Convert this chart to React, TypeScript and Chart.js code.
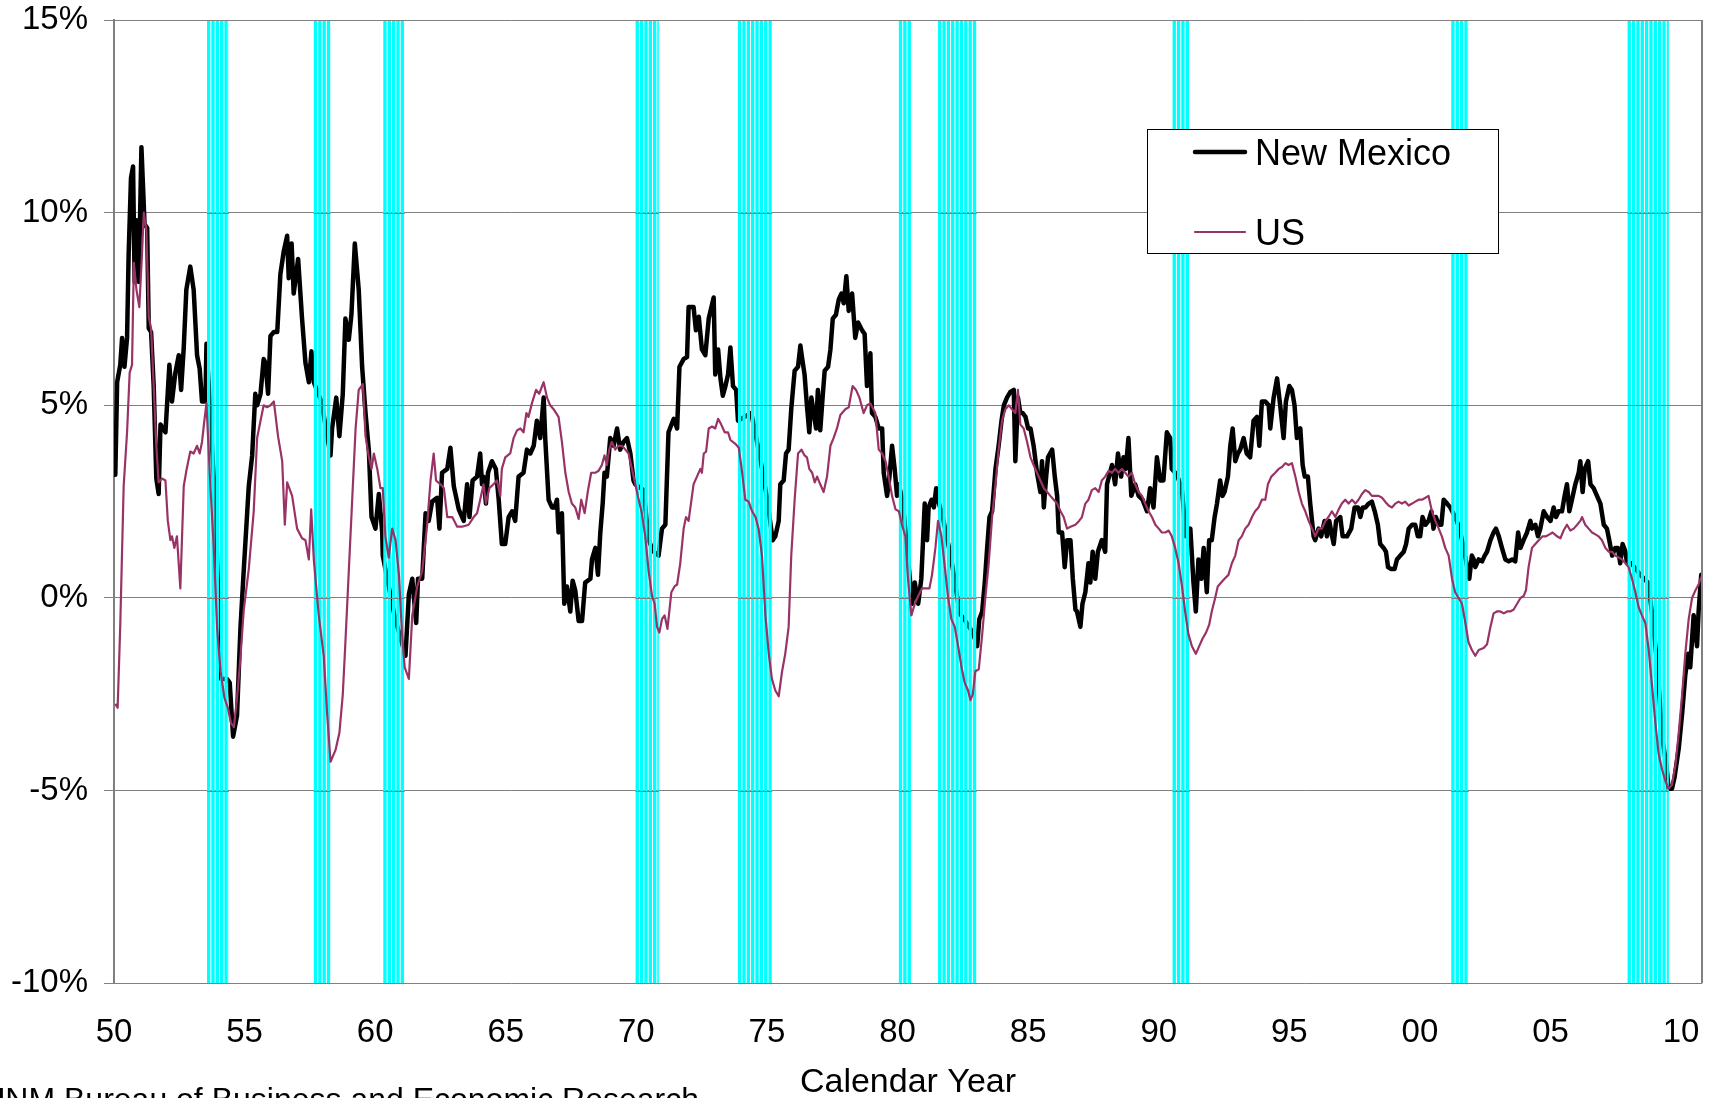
import React, { useEffect, useRef } from 'react';
import { Chart, registerables } from 'chart.js';

Chart.register(...registerables);

// ---------- DATA ----------
const seriesLabels = ['New Mexico', 'US'];
const xAxisTitle = 'Calendar Year';
const sourceNote = 'UNM Bureau of Business and Economic Research';

const xTickYears = [1950, 1955, 1960, 1965, 1970, 1975, 1980, 1985, 1990, 1995, 2000, 2005, 2010];
const yTickValues = [-10, -5, 0, 5, 10, 15];

// recession periods (fractional years)
const recessionStarts = [1953.56, 1957.65, 1960.31, 1969.97, 1973.89, 1980.05, 1981.55, 1990.53, 2001.2, 2007.95];
const recessionEnds = [1954.4, 1958.29, 1961.13, 1970.86, 1975.2, 1980.53, 1983.03, 1991.19, 2001.87, 2009.53];

// New Mexico, year-over-year % change: [year, value]
const newMexico: [number, number][] = [
  [1950.05, 3.2], [1950.12, 5.6], [1950.24, 6.05], [1950.31, 6.75], [1950.40, 6.0], [1950.50, 6.75], [1950.56, 8.9], [1950.65, 10.9], [1950.73, 11.2], [1950.79, 8.2], [1950.86, 9.8], [1950.95, 8.2],
  [1951.05, 11.7], [1951.17, 9.7], [1951.27, 9.6], [1951.33, 7.0], [1951.42, 6.9], [1951.52, 5.5], [1951.62, 3.1], [1951.71, 2.7], [1951.78, 4.5], [1951.97, 4.3],
  [1952.12, 6.05], [1952.22, 5.1], [1952.35, 5.85], [1952.48, 6.3], [1952.57, 5.4], [1952.67, 6.5], [1952.77, 8.0], [1952.92, 8.6],
  [1953.05, 8.0], [1953.18, 6.3], [1953.28, 5.95], [1953.37, 5.1], [1953.50, 5.1], [1953.54, 6.6], [1953.88, 2.35],
  [1954.01, -0.3], [1954.10, -2.1], [1954.33, -2.1], [1954.43, -2.2], [1954.56, -3.6], [1954.71, -3.05], [1954.84, -0.8], [1954.97, 0.75],
  [1955.16, 2.9], [1955.29, 3.7], [1955.41, 5.3], [1955.48, 5.0], [1955.61, 5.3], [1955.73, 6.2], [1955.80, 6.1], [1955.90, 5.3], [1955.99, 6.8],
  [1956.12, 6.9], [1956.25, 6.9], [1956.37, 8.4], [1956.50, 9.0], [1956.63, 9.4], [1956.69, 8.3], [1956.80, 9.2], [1956.88, 7.9],
  [1957.05, 8.8], [1957.20, 7.25], [1957.33, 6.1], [1957.46, 5.6], [1957.56, 6.4], [1957.65, 5.6], [1957.94, 5.1],
  [1958.29, 3.7], [1958.35, 4.4], [1958.51, 5.2], [1958.63, 4.2], [1958.76, 5.3], [1958.86, 7.25], [1958.99, 6.7],
  [1959.09, 7.35], [1959.22, 9.2], [1959.37, 8.0], [1959.50, 6.0], [1959.63, 4.8], [1959.76, 3.8], [1959.86, 2.1],
  [1960.01, 1.8], [1960.14, 2.7], [1960.27, 1.7], [1960.29, 1.1], [1960.75, -0.5],
  [1961.16, -1.5], [1961.29, 0.1], [1961.42, 0.5], [1961.57, -0.65], [1961.64, 0.5], [1961.80, 0.5], [1961.93, 2.2],
  [1962.05, 2.0], [1962.18, 2.5], [1962.37, 2.6], [1962.46, 1.8], [1962.56, 3.25], [1962.76, 3.35], [1962.88, 3.9],
  [1963.01, 2.9], [1963.20, 2.3], [1963.39, 2.0], [1963.52, 2.95], [1963.61, 2.1], [1963.73, 3.05], [1963.90, 3.15],
  [1964.02, 3.75], [1964.09, 2.95], [1964.15, 3.15], [1964.24, 2.45], [1964.32, 3.25], [1964.47, 3.55], [1964.62, 3.35], [1964.73, 2.55], [1964.85, 1.4], [1964.98, 1.4],
  [1965.11, 2.1], [1965.24, 2.25], [1965.36, 2.0], [1965.49, 3.15], [1965.68, 3.25], [1965.81, 3.85], [1965.94, 3.75],
  [1966.07, 3.95], [1966.19, 4.6], [1966.32, 4.15], [1966.45, 5.2], [1966.51, 4.15], [1966.64, 2.55], [1966.77, 2.35], [1966.87, 2.35], [1966.96, 2.55],
  [1967.02, 1.7], [1967.15, 2.2], [1967.24, -0.15], [1967.34, 0.3], [1967.47, -0.35], [1967.56, 0.45], [1967.66, 0.2], [1967.79, -0.6], [1967.92, -0.6],
  [1968.04, 0.4], [1968.24, 0.5], [1968.30, 1.0], [1968.43, 1.3], [1968.53, 0.6], [1968.62, 1.7], [1968.71, 2.45], [1968.78, 3.25], [1968.87, 3.15],
  [1969.00, 4.15], [1969.13, 3.95], [1969.26, 4.4], [1969.38, 3.85], [1969.51, 4.05], [1969.64, 4.15], [1969.77, 3.75], [1969.89, 3.05], [1969.96, 2.95],
  [1970.28, 2.8], [1970.47, 1.5], [1970.66, 1.2], [1970.85, 1.1], [1970.98, 1.8],
  [1971.11, 1.9], [1971.23, 4.3], [1971.43, 4.65], [1971.56, 4.4], [1971.65, 6.0], [1971.81, 6.2], [1971.94, 6.25],
  [1972.00, 7.55], [1972.19, 7.55], [1972.28, 6.95], [1972.39, 7.3], [1972.51, 6.45], [1972.64, 6.3], [1972.77, 7.25], [1972.96, 7.8],
  [1973.02, 5.8], [1973.13, 6.45], [1973.22, 5.7], [1973.31, 5.25], [1973.41, 5.5], [1973.51, 5.8], [1973.60, 6.5], [1973.70, 5.5], [1973.82, 5.4], [1973.89, 4.6],
  [1974.40, 4.8], [1974.75, 3.6], [1975.00, 2.6], [1975.22, 1.5], [1975.32, 1.6], [1975.45, 2.0], [1975.51, 2.95], [1975.64, 3.05], [1975.73, 3.75], [1975.83, 3.85], [1975.93, 4.9],
  [1976.06, 5.9], [1976.19, 6.0], [1976.28, 6.55], [1976.34, 6.25], [1976.44, 5.8], [1976.53, 5.0], [1976.62, 4.3], [1976.70, 5.2], [1976.79, 4.8], [1976.88, 4.4], [1976.95, 5.4],
  [1977.04, 4.35], [1977.13, 5.2], [1977.21, 5.9], [1977.34, 6.0], [1977.43, 6.45], [1977.52, 7.25], [1977.64, 7.35], [1977.75, 7.75], [1977.85, 7.9], [1977.94, 7.65],
  [1978.04, 8.35], [1978.13, 7.45], [1978.26, 7.9], [1978.38, 6.75], [1978.49, 7.15], [1978.64, 6.95], [1978.74, 6.85], [1978.83, 5.5], [1978.96, 6.35],
  [1979.02, 4.8], [1979.15, 4.7], [1979.28, 4.4], [1979.41, 4.4], [1979.47, 3.25], [1979.60, 2.65], [1979.69, 3.15], [1979.79, 3.95], [1979.89, 3.35], [1979.98, 2.65],
  [1980.05, 2.95], [1980.20, 2.5], [1980.56, -0.15], [1980.66, 0.4], [1980.79, -0.15], [1980.91, 0.5],
  [1981.04, 2.45], [1981.13, 1.5], [1981.19, 2.35], [1981.30, 2.55], [1981.39, 2.35], [1981.48, 2.85], [1981.55, 2.55], [1981.73, 2.1],
  [1982.06, 1.0], [1982.38, -0.4], [1982.60, -0.6], [1982.88, -0.9],
  [1983.05, -1.25], [1983.13, -0.55], [1983.24, -0.35], [1983.34, 0.4], [1983.43, 1.3], [1983.52, 2.1], [1983.62, 2.25], [1983.75, 3.35], [1983.87, 3.95], [1983.98, 4.6],
  [1984.07, 5.0], [1984.19, 5.2], [1984.32, 5.35], [1984.45, 5.4], [1984.51, 3.55], [1984.61, 5.2], [1984.70, 4.8], [1984.79, 4.8], [1984.90, 4.7],
  [1985.00, 4.4], [1985.09, 4.4], [1985.21, 3.95], [1985.34, 3.25], [1985.47, 2.75], [1985.53, 3.55], [1985.60, 2.35], [1985.69, 3.15], [1985.76, 3.65], [1985.92, 3.85],
  [1986.02, 3.15], [1986.11, 2.65], [1986.17, 1.7], [1986.30, 1.7], [1986.40, 0.8], [1986.49, 1.5], [1986.62, 1.5], [1986.71, 0.5], [1986.81, -0.3], [1986.87, -0.35],
  [1987.00, -0.75], [1987.08, -0.15], [1987.19, 0.15], [1987.31, 0.9], [1987.38, 0.4], [1987.47, 1.2], [1987.57, 0.5], [1987.67, 1.2], [1987.82, 1.5], [1987.95, 1.2],
  [1988.02, 2.95], [1988.21, 3.45], [1988.33, 2.95], [1988.44, 3.75], [1988.56, 3.15], [1988.65, 3.65], [1988.74, 3.35], [1988.84, 4.15], [1988.95, 2.65],
  [1989.10, 2.95], [1989.23, 2.65], [1989.38, 2.55], [1989.55, 2.25], [1989.67, 2.85], [1989.80, 2.35], [1989.93, 3.65],
  [1990.06, 3.05], [1990.18, 3.05], [1990.31, 4.3], [1990.44, 4.15], [1990.50, 3.35], [1990.70, 3.2], [1990.89, 2.8],
  [1991.04, 1.6], [1991.21, 1.8], [1991.33, 0.4], [1991.42, -0.35], [1991.52, 1.0], [1991.63, 0.5], [1991.72, 1.3], [1991.84, 0.15], [1991.93, 1.5],
  [1992.03, 1.5], [1992.14, 2.1], [1992.23, 2.45], [1992.35, 3.05], [1992.44, 2.65], [1992.52, 2.75], [1992.65, 3.15], [1992.74, 3.95], [1992.83, 4.4], [1992.93, 3.55],
  [1993.03, 3.75], [1993.12, 3.85], [1993.25, 4.15], [1993.37, 3.75], [1993.50, 3.65], [1993.63, 4.6], [1993.76, 4.7], [1993.85, 3.95], [1993.95, 5.1],
  [1994.08, 5.1], [1994.21, 5.0], [1994.27, 4.4], [1994.40, 5.2], [1994.53, 5.7], [1994.65, 5.0], [1994.78, 4.15], [1994.87, 5.1],
  [1995.00, 5.5], [1995.10, 5.4], [1995.20, 5.0], [1995.29, 4.15], [1995.42, 4.4], [1995.51, 3.45], [1995.59, 3.15], [1995.71, 3.15], [1995.80, 2.45], [1995.93, 1.6], [1995.99, 1.5],
  [1996.12, 1.8], [1996.22, 1.6], [1996.35, 2.0], [1996.44, 1.6], [1996.53, 2.0], [1996.61, 1.7], [1996.70, 1.4], [1996.79, 2.0], [1996.95, 2.1],
  [1997.04, 1.6], [1997.21, 1.6], [1997.37, 1.8], [1997.50, 2.35], [1997.63, 2.35], [1997.72, 2.1], [1997.81, 2.35], [1997.91, 2.35],
  [1998.04, 2.45], [1998.16, 2.5], [1998.27, 2.25], [1998.39, 1.9], [1998.48, 1.4], [1998.61, 1.3], [1998.70, 1.2], [1998.78, 0.8], [1998.90, 0.75],
  [1999.03, 0.75], [1999.12, 1.0], [1999.25, 1.1], [1999.38, 1.2], [1999.47, 1.4], [1999.57, 1.8], [1999.70, 1.9], [1999.82, 1.9], [1999.92, 1.6],
  [2000.01, 1.6], [2000.10, 2.1], [2000.21, 1.9], [2000.33, 2.0], [2000.44, 2.25], [2000.52, 1.8], [2000.61, 2.1], [2000.72, 1.9], [2000.82, 1.9], [2000.91, 2.55],
  [2001.04, 2.45], [2001.16, 2.35], [2001.35, 2.1], [2001.52, 1.8], [2001.70, 1.2], [2001.89, 0.5], [2001.99, 1.1],
  [2002.06, 1.0], [2002.12, 0.8], [2002.25, 1.0], [2002.38, 0.95], [2002.48, 1.1], [2002.57, 1.2], [2002.70, 1.5], [2002.82, 1.7], [2002.91, 1.8],
  [2003.02, 1.6], [2003.14, 1.3], [2003.27, 1.0], [2003.40, 0.95], [2003.53, 1.0], [2003.65, 0.95], [2003.76, 1.7], [2003.85, 1.3], [2003.97, 1.5],
  [2004.10, 1.7], [2004.23, 2.0], [2004.29, 1.8], [2004.42, 1.9], [2004.52, 1.6], [2004.61, 1.8], [2004.74, 2.25], [2004.87, 2.1],
  [2005.00, 2.0], [2005.12, 2.35], [2005.21, 2.1], [2005.31, 2.25], [2005.44, 2.25], [2005.54, 2.65], [2005.63, 2.95], [2005.72, 2.25], [2005.82, 2.55], [2005.95, 2.95],
  [2006.08, 3.25], [2006.14, 3.55], [2006.23, 2.75], [2006.31, 3.35], [2006.44, 3.55], [2006.53, 2.95], [2006.65, 2.85], [2006.78, 2.65], [2006.91, 2.45],
  [2007.04, 1.9], [2007.16, 1.8], [2007.25, 1.5], [2007.36, 1.1], [2007.48, 1.3], [2007.58, 1.3], [2007.67, 0.9], [2007.76, 1.4], [2007.87, 1.2], [2007.93, 0.9],
  [2008.10, 0.9], [2008.44, 0.6], [2008.73, 0.4], [2008.91, -0.5],
  [2009.12, -2.0], [2009.27, -3.6], [2009.44, -4.35], [2009.52, -4.95], [2009.65, -4.95], [2009.75, -4.65], [2009.91, -3.9],
  [2010.04, -3.0], [2010.16, -2.0], [2010.27, -1.45], [2010.35, -1.8], [2010.48, -0.45], [2010.61, -1.25], [2010.67, -0.35], [2010.77, 0.6],
];

// United States, year-over-year % change: [year, value]
const unitedStates: [number, number][] = [
  [1950.05, -2.75], [1950.14, -2.85], [1950.24, -0.7], [1950.37, 2.9], [1950.50, 4.3], [1950.60, 5.85], [1950.69, 6.05], [1950.76, 8.7], [1950.86, 8.0], [1950.97, 7.55],
  [1951.07, 8.9], [1951.14, 10.0], [1951.24, 9.55], [1951.33, 7.3], [1951.42, 7.0], [1951.52, 5.5], [1951.62, 3.95], [1951.71, 3.0], [1951.84, 3.1], [1951.97, 3.05],
  [1952.06, 2.0], [1952.16, 1.5], [1952.22, 1.6], [1952.31, 1.3], [1952.41, 1.6], [1952.54, 0.25], [1952.67, 2.9], [1952.77, 3.3], [1952.92, 3.8],
  [1953.05, 3.75], [1953.18, 3.95], [1953.28, 3.75], [1953.37, 4.05], [1953.46, 4.6], [1953.54, 5.05], [1953.69, 2.9], [1953.82, 1.3], [1953.95, -0.8],
  [1954.08, -1.9], [1954.23, -2.6], [1954.36, -2.85], [1954.48, -3.25], [1954.59, -3.35], [1954.71, -2.6], [1954.84, -1.55], [1954.97, -0.3],
  [1955.16, 0.75], [1955.35, 2.25], [1955.48, 4.15], [1955.61, 4.6], [1955.73, 5.0], [1955.86, 4.95], [1955.99, 5.0],
  [1956.12, 5.1], [1956.28, 4.2], [1956.44, 3.55], [1956.54, 1.9], [1956.63, 3.0], [1956.82, 2.65],
  [1957.01, 1.8], [1957.20, 1.55], [1957.33, 1.5], [1957.46, 1.0], [1957.55, 2.3], [1957.65, 1.0], [1957.84, -0.45],
  [1958.03, -1.5], [1958.16, -3.0], [1958.29, -4.25], [1958.48, -3.95], [1958.63, -3.5], [1958.76, -2.5], [1958.86, -1.15], [1958.99, 0.7],
  [1959.12, 2.55], [1959.25, 4.4], [1959.37, 5.4], [1959.53, 5.55], [1959.63, 4.2], [1959.76, 3.65], [1959.86, 3.35], [1959.95, 3.75],
  [1960.08, 3.35], [1960.20, 2.85], [1960.29, 2.85], [1960.39, 1.6], [1960.52, 1.05], [1960.65, 1.8], [1960.78, 1.5], [1960.91, 0.6],
  [1961.03, -0.95], [1961.13, -1.8], [1961.29, -2.1], [1961.42, -0.45], [1961.61, 0.3], [1961.80, 0.7], [1961.99, 1.9],
  [1962.12, 3.05], [1962.24, 3.75], [1962.33, 3.05], [1962.50, 2.95], [1962.63, 2.85], [1962.76, 2.1], [1962.95, 2.1],
  [1963.14, 1.85], [1963.33, 1.85], [1963.58, 1.9], [1963.77, 2.1], [1963.90, 2.2],
  [1964.02, 2.55], [1964.15, 2.95], [1964.24, 2.45], [1964.37, 2.85], [1964.53, 2.95], [1964.66, 3.05], [1964.79, 2.65], [1964.85, 3.35], [1964.98, 3.65],
  [1965.17, 3.75], [1965.30, 4.15], [1965.43, 4.35], [1965.56, 4.4], [1965.68, 4.3], [1965.79, 4.8], [1965.87, 4.7],
  [1966.00, 5.05], [1966.16, 5.4], [1966.28, 5.3], [1966.45, 5.6], [1966.58, 5.2], [1966.70, 5.0], [1966.83, 4.9],
  [1967.02, 4.7], [1967.15, 4.05], [1967.28, 3.25], [1967.41, 2.75], [1967.53, 2.45], [1967.66, 2.35], [1967.79, 2.05], [1967.89, 2.55],
  [1968.02, 2.2], [1968.15, 2.8], [1968.27, 3.25], [1968.43, 3.25], [1968.55, 3.3], [1968.68, 3.45], [1968.78, 3.7], [1968.87, 3.45], [1968.96, 3.85],
  [1969.06, 4.05], [1969.19, 3.85], [1969.32, 3.95], [1969.45, 3.95], [1969.58, 3.85], [1969.70, 3.75], [1969.83, 3.35], [1969.96, 2.95],
  [1970.09, 2.55], [1970.21, 2.2], [1970.34, 1.6], [1970.47, 0.7], [1970.60, 0.05], [1970.70, -0.15], [1970.79, -0.75], [1970.88, -0.9], [1970.98, -0.55],
  [1971.08, -0.45], [1971.19, -0.8], [1971.34, 0.15], [1971.46, 0.3], [1971.56, 0.35], [1971.68, 0.9], [1971.81, 1.8], [1971.90, 2.1],
  [1972.00, 2.0], [1972.11, 2.55], [1972.19, 2.95], [1972.32, 3.15], [1972.45, 3.35], [1972.51, 3.25], [1972.58, 3.75], [1972.67, 3.8], [1972.77, 4.4], [1972.90, 4.45],
  [1973.02, 4.4], [1973.13, 4.65], [1973.25, 4.5], [1973.38, 4.3], [1973.51, 4.3], [1973.60, 4.1], [1973.79, 4.0], [1973.92, 3.9],
  [1974.05, 3.25], [1974.17, 2.55], [1974.30, 2.5], [1974.43, 2.25], [1974.56, 2.1], [1974.68, 1.8], [1974.81, 1.1], [1974.94, -0.45],
  [1975.07, -1.45], [1975.19, -2.1], [1975.32, -2.4], [1975.45, -2.55], [1975.58, -1.9], [1975.70, -1.45], [1975.83, -0.75], [1975.93, 1.1],
  [1976.06, 2.55], [1976.19, 3.75], [1976.32, 3.85], [1976.44, 3.7], [1976.53, 3.65], [1976.62, 3.35], [1976.73, 3.25], [1976.83, 3.0], [1976.92, 3.15],
  [1977.04, 2.95], [1977.17, 2.75], [1977.30, 3.15], [1977.43, 3.95], [1977.55, 4.15], [1977.68, 4.4], [1977.81, 4.75],
  [1978.00, 4.9], [1978.13, 4.95], [1978.28, 5.5], [1978.41, 5.4], [1978.54, 5.2], [1978.70, 4.8], [1978.83, 5.0], [1978.96, 5.05],
  [1979.15, 4.8], [1979.28, 3.85], [1979.41, 3.75], [1979.54, 3.55], [1979.66, 3.15], [1979.79, 2.65], [1979.92, 2.3],
  [1980.05, 2.25], [1980.17, 1.9], [1980.30, 1.6], [1980.40, 0.5], [1980.53, -0.45], [1980.66, -0.15], [1980.79, 0.05], [1980.94, 0.25],
  [1981.09, 0.25], [1981.22, 0.25], [1981.32, 0.6], [1981.45, 1.3], [1981.55, 2.0], [1981.68, 1.6], [1981.81, 0.8], [1981.93, 0.05],
  [1982.06, -0.55], [1982.19, -0.75], [1982.32, -1.25], [1982.45, -1.8], [1982.57, -2.2], [1982.70, -2.4], [1982.79, -2.65], [1982.88, -2.5], [1982.98, -1.9],
  [1983.11, -1.85], [1983.24, -0.95], [1983.36, 0.0], [1983.49, 0.9], [1983.62, 2.1], [1983.75, 2.95], [1983.87, 3.85],
  [1984.00, 4.6], [1984.13, 4.9], [1984.26, 5.0], [1984.38, 4.9], [1984.51, 4.8], [1984.61, 5.4], [1984.70, 4.5], [1984.83, 4.4], [1984.96, 4.05],
  [1985.09, 3.65], [1985.21, 3.45], [1985.34, 3.25], [1985.47, 3.05], [1985.60, 2.85], [1985.73, 2.75], [1985.85, 2.65], [1985.98, 2.55],
  [1986.11, 2.45], [1986.24, 2.25], [1986.36, 2.1], [1986.49, 1.8], [1986.62, 1.85], [1986.81, 1.9], [1986.95, 2.0],
  [1987.06, 2.1], [1987.19, 2.45], [1987.31, 2.55], [1987.44, 2.8], [1987.57, 2.85], [1987.70, 2.75], [1987.82, 3.05], [1987.95, 3.15],
  [1988.08, 3.3], [1988.21, 3.25], [1988.33, 3.35], [1988.46, 3.25], [1988.59, 3.35], [1988.72, 3.25], [1988.84, 3.15], [1988.97, 3.25],
  [1989.10, 2.95], [1989.23, 2.75], [1989.36, 2.65], [1989.48, 2.45], [1989.61, 2.25], [1989.74, 2.1], [1989.87, 1.9],
  [1990.00, 1.8], [1990.12, 1.7], [1990.25, 1.7], [1990.38, 1.75], [1990.50, 1.6], [1990.63, 1.3], [1990.76, 0.9], [1990.89, 0.3],
  [1991.01, -0.35], [1991.14, -0.95], [1991.27, -1.25], [1991.42, -1.45], [1991.55, -1.25], [1991.68, -1.05], [1991.81, -0.9], [1991.93, -0.7],
  [1992.03, -0.35], [1992.16, 0.0], [1992.26, 0.3], [1992.39, 0.4], [1992.52, 0.5], [1992.67, 0.6], [1992.80, 0.9], [1992.93, 1.1],
  [1993.06, 1.5], [1993.18, 1.6], [1993.31, 1.8], [1993.44, 1.9], [1993.57, 2.1], [1993.69, 2.25], [1993.82, 2.35], [1993.95, 2.55],
  [1994.08, 2.55], [1994.18, 2.95], [1994.31, 3.15], [1994.46, 3.25], [1994.59, 3.35], [1994.72, 3.4], [1994.85, 3.5], [1994.97, 3.45],
  [1995.10, 3.5], [1995.23, 3.15], [1995.36, 2.75], [1995.48, 2.45], [1995.61, 2.25], [1995.74, 2.0], [1995.87, 1.8], [1995.99, 1.6],
  [1996.12, 1.8], [1996.25, 1.8], [1996.38, 2.0], [1996.50, 2.1], [1996.63, 2.25], [1996.76, 2.1], [1996.89, 2.3],
  [1997.01, 2.45], [1997.14, 2.55], [1997.27, 2.45], [1997.40, 2.55], [1997.53, 2.45], [1997.65, 2.55], [1997.78, 2.7], [1997.91, 2.8],
  [1998.04, 2.75], [1998.16, 2.65], [1998.29, 2.65], [1998.42, 2.65], [1998.55, 2.6], [1998.67, 2.5], [1998.80, 2.4], [1998.93, 2.35],
  [1999.06, 2.45], [1999.18, 2.5], [1999.31, 2.45], [1999.44, 2.5], [1999.57, 2.4], [1999.70, 2.45], [1999.82, 2.5], [1999.95, 2.55],
  [2000.08, 2.55], [2000.21, 2.6], [2000.33, 2.65], [2000.46, 2.25], [2000.59, 2.0], [2000.72, 1.8], [2000.84, 1.6], [2000.97, 1.3],
  [2001.10, 1.1], [2001.23, 0.5], [2001.35, 0.15], [2001.48, 0.0], [2001.61, -0.15], [2001.74, -0.65], [2001.86, -1.15], [2001.99, -1.35],
  [2002.12, -1.5], [2002.25, -1.35], [2002.44, -1.3], [2002.57, -1.2], [2002.70, -0.75], [2002.82, -0.4], [2002.95, -0.35],
  [2003.08, -0.35], [2003.21, -0.4], [2003.34, -0.35], [2003.46, -0.35], [2003.59, -0.3], [2003.72, -0.15], [2003.85, 0.0], [2003.97, 0.05],
  [2004.06, 0.2], [2004.16, 0.8], [2004.29, 1.3], [2004.42, 1.4], [2004.55, 1.5], [2004.70, 1.6], [2004.83, 1.6], [2004.96, 1.65],
  [2005.08, 1.7], [2005.25, 1.6], [2005.38, 1.55], [2005.50, 1.75], [2005.63, 1.9], [2005.76, 1.75], [2005.89, 1.8],
  [2006.02, 1.9], [2006.14, 2.0], [2006.21, 2.1], [2006.33, 1.9], [2006.46, 1.8], [2006.59, 1.7], [2006.72, 1.65], [2006.84, 1.6], [2006.97, 1.5],
  [2007.10, 1.3], [2007.23, 1.2], [2007.36, 1.2], [2007.48, 1.1], [2007.61, 1.05], [2007.74, 1.0], [2007.87, 0.9], [2007.99, 0.8],
  [2008.12, 0.5], [2008.25, 0.15], [2008.38, -0.25], [2008.50, -0.45], [2008.63, -0.65], [2008.76, -1.35], [2008.89, -2.3],
  [2009.01, -3.2], [2009.14, -4.05], [2009.27, -4.45], [2009.40, -4.75], [2009.52, -4.95], [2009.65, -4.85], [2009.78, -4.35], [2009.91, -3.5],
  [2010.04, -2.5], [2010.16, -1.45], [2010.29, -0.55], [2010.42, 0.0], [2010.55, 0.2], [2010.67, 0.35], [2010.77, 0.55],
];

// ---------- STYLE ----------
const FONT = 'Arial, "Liberation Sans", Helvetica, sans-serif';
const NM_COLOR = '#000000';
const US_COLOR = '#993366';
const RECESSION_COLOR = '#00FFFF';
const GRID_COLOR = '#808080';
const STRIPE_PERIOD = 4.35;
const STRIPE_GAP = 1;

const zeroScalePadding = (s: any) => {
  s.paddingLeft = 0;
  s.paddingRight = 0;
  s.paddingTop = 0;
  s.paddingBottom = 0;
};

const overlayPlugin = {
  id: 'overlay',
  afterDatasetDraw(chart: any, args: any) {
    if (chart.data.datasets[args.index].label !== seriesLabels[0]) return;
    const { ctx, chartArea } = chart;
    const xs = chart.scales.x;
    const ys = chart.scales.y;
    const top = chartArea.top;
    const bottom = chartArea.bottom;
    ctx.save();
    ctx.beginPath();
    ctx.rect(chartArea.left, chartArea.top, chartArea.right - chartArea.left, chartArea.bottom - chartArea.top);
    ctx.clip();
    recessionStarts.forEach((s, i) => {
      const x1 = xs.getPixelForValue(s);
      const x2 = xs.getPixelForValue(recessionEnds[i]);
      ctx.fillStyle = RECESSION_COLOR;
      for (let px = x1; px < x2; px += STRIPE_PERIOD) {
        const w = Math.min(STRIPE_PERIOD - STRIPE_GAP, x2 - px);
        ctx.fillRect(px, top, w, bottom - top);
      }
      ctx.strokeStyle = GRID_COLOR;
      ctx.lineWidth = 1;
      yTickValues.forEach((v) => {
        const py = Math.round(ys.getPixelForValue(v)) + 0.5;
        ctx.beginPath();
        ctx.moveTo(x1, py);
        ctx.lineTo(x2, py);
        ctx.stroke();
      });
    });
    ctx.restore();
  },
  afterDraw(chart: any) {
    const { ctx, chartArea } = chart;
    ctx.save();
    // right frame line
    ctx.strokeStyle = GRID_COLOR;
    ctx.lineWidth = 2;
    ctx.beginPath();
    ctx.moveTo(chartArea.right, chartArea.top);
    ctx.lineTo(chartArea.right, chartArea.bottom);
    ctx.stroke();

    // legend box
    const lx = 1147, ly = 129, lw = 351, lh = 124;
    ctx.fillStyle = '#ffffff';
    ctx.fillRect(lx, ly, lw, lh);
    ctx.strokeStyle = '#000000';
    ctx.lineWidth = 1;
    ctx.strokeRect(lx + 0.5, ly + 0.5, lw, lh);
    const rows = [152, 232];
    chart.data.datasets.forEach((ds: any, i: number) => {
      const ry = rows[i];
      ctx.strokeStyle = ds.borderColor;
      ctx.lineWidth = ds.borderWidth;
      ctx.lineCap = 'round';
      ctx.beginPath();
      ctx.moveTo(1195, ry);
      ctx.lineTo(1245, ry);
      ctx.stroke();
      ctx.fillStyle = '#000000';
      ctx.font = `36px ${FONT}`;
      ctx.textAlign = 'left';
      ctx.textBaseline = 'alphabetic';
      ctx.fillText(ds.label, 1255, ry + 13);
    });

    // source note (partially cut off, as in the original)
    ctx.fillStyle = '#000000';
    ctx.font = `32px ${FONT}`;
    ctx.textAlign = 'right';
    ctx.textBaseline = 'alphabetic';
    ctx.fillText(sourceNote, 699, 1110);
    ctx.restore();
  },
};

export default function App() {
  const canvasRef = useRef<HTMLCanvasElement | null>(null);

  useEffect(() => {
    if (!canvasRef.current) return;
    const chart = new Chart(canvasRef.current, {
      type: 'line',
      data: {
        datasets: [
          {
            label: seriesLabels[0],
            data: newMexico.map(([x, y]) => ({ x, y })),
            borderColor: NM_COLOR,
            backgroundColor: NM_COLOR,
            borderWidth: 4.5,
            pointRadius: 0,
            tension: 0,
            borderJoinStyle: 'round',
            borderCapStyle: 'round',
            order: 2,
          },
          {
            label: seriesLabels[1],
            data: unitedStates.map(([x, y]) => ({ x, y })),
            borderColor: US_COLOR,
            backgroundColor: US_COLOR,
            borderWidth: 2.2,
            pointRadius: 0,
            tension: 0,
            borderJoinStyle: 'round',
            order: 1,
          },
        ],
      },
      options: {
        responsive: false,
        animation: false,
        devicePixelRatio: 1,
        events: [],
        layout: { padding: { left: 0, right: 11, top: 20, bottom: 0 } },
        plugins: { legend: { display: false }, tooltip: { enabled: false } },
        scales: {
          x: {
            type: 'linear',
            min: 1950,
            max: 2010.8,
            afterBuildTicks: (s: any) => {
              s.ticks = xTickYears.map((v) => ({ value: v }));
            },
            afterFit: (s: any) => {
              s.height = 114.7;
              zeroScalePadding(s);
            },
            grid: { display: false, drawTicks: false, tickLength: 0 },
            border: { display: false },
            ticks: {
              padding: 30,
              autoSkip: false,
              maxRotation: 0,
              color: '#000000',
              font: { family: FONT, size: 33 },
              callback: (v: any) => String(Math.round(Number(v)) % 100).padStart(2, '0'),
            },
            title: {
              display: true,
              text: xAxisTitle,
              color: '#000000',
              font: { family: FONT, size: 34, lineHeight: 0.9 },
              padding: 0,
            },
          },
          y: {
            type: 'linear',
            min: -10,
            max: 15,
            afterBuildTicks: (s: any) => {
              s.ticks = yTickValues.map((v) => ({ value: v }));
            },
            afterFit: (s: any) => {
              s.width = 114;
              zeroScalePadding(s);
            },
            grid: { color: GRID_COLOR, lineWidth: 1, tickLength: 10, drawTicks: true },
            border: { display: true, color: GRID_COLOR, width: 2 },
            ticks: {
              padding: 16,
              color: '#000000',
              font: { family: FONT, size: 33 },
              callback: (v: any) => `${v}%`,
            },
          },
        },
      },
      plugins: [overlayPlugin],
    } as any);
    return () => chart.destroy();
  }, []);

  return (
    <div style={{ position: 'fixed', left: 0, top: 0, width: 1713, height: 1098, background: '#ffffff' }}>
      <canvas ref={canvasRef} width={1713} height={1098} style={{ display: 'block' }} />
    </div>
  );
}
